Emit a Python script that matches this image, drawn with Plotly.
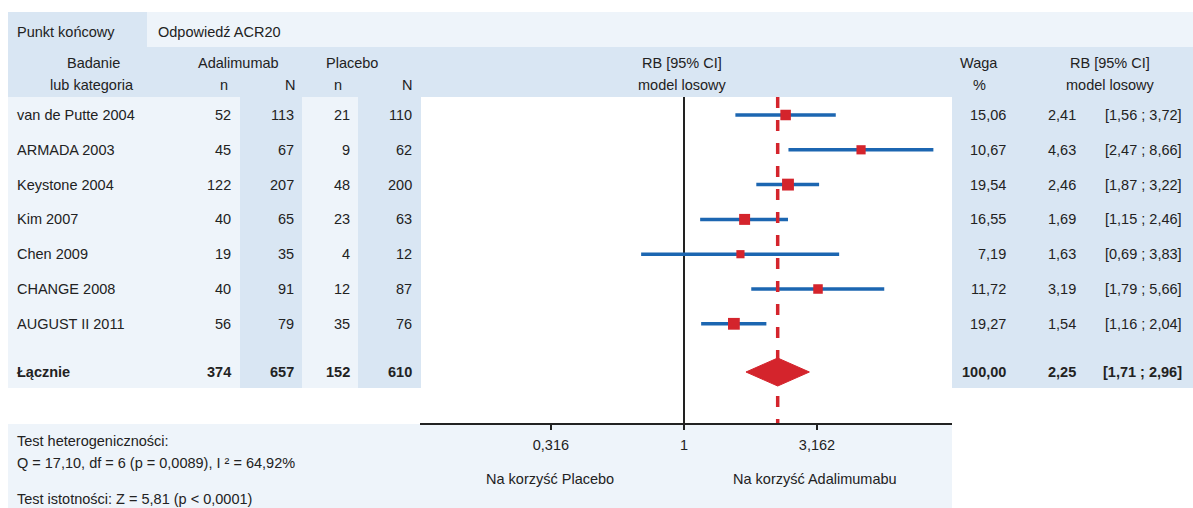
import plotly.graph_objects as go

W, H = 1193, 508

# ---------------- data ----------------
studies = ["van de Putte 2004", "ARMADA 2003", "Keystone 2004", "Kim 2007",
           "Chen 2009", "CHANGE 2008", "AUGUST II 2011"]
ada_n = [52, 45, 122, 40, 19, 40, 56]
ada_N = [113, 67, 207, 65, 35, 91, 79]
pla_n = [21, 9, 48, 23, 4, 12, 35]
pla_N = [110, 62, 200, 63, 12, 87, 76]
weights = [15.06, 10.67, 19.54, 16.55, 7.19, 11.72, 19.27]
rb = [2.41, 4.63, 2.46, 1.69, 1.63, 3.19, 1.54]
ci_lo = [1.56, 2.47, 1.87, 1.15, 0.69, 1.79, 1.16]
ci_hi = [3.72, 8.66, 3.22, 2.46, 3.83, 5.66, 2.04]

total_label = "Łącznie"
total_ada_n, total_ada_N = 374, 657
total_pla_n, total_pla_N = 152, 610
total_weight = 100.00
total_rb, total_lo, total_hi = 2.25, 1.71, 2.96

tick_vals = [0.316, 1, 3.162]
tick_text = ["0,316", "1", "3,162"]

# ---------------- styles ----------------
FONT = "Liberation Sans, Arial, sans-serif"
FS = 14.5
TXT = "#222222"
DARK = "#d9e6f3"
LIGHT = "#eef4fa"
RED = "#d4242c"
BLUE = "#1c66b1"

ROW0, STEP = 115, 34.8
rows_y = [ROW0 + i * STEP for i in range(len(studies))]
total_y = 372
PLOT_TOP, AXIS_Y = 97, 424


def fmt(v):
    return f"{v:.2f}".replace(".", ",")


fig = go.Figure()

# reference line at 1
fig.add_trace(go.Scatter(x=[1, 1], y=[PLOT_TOP, AXIS_Y], mode="lines",
                         line=dict(color="#222222", width=2), hoverinfo="skip"))
# CI lines
cx, cy = [], []
for lo, hi, y in zip(ci_lo, ci_hi, rows_y):
    cx += [lo, hi, None]
    cy += [y, y, None]
fig.add_trace(go.Scatter(x=cx, y=cy, mode="lines",
                         line=dict(color=BLUE, width=3.5), hoverinfo="skip"))
# pooled dashed line
fig.add_trace(go.Scatter(x=[total_rb, total_rb], y=[PLOT_TOP, AXIS_Y], mode="lines",
                         line=dict(color=RED, width=3.5, dash="11px,12px"),
                         hoverinfo="skip"))
# squares
fig.add_trace(go.Scatter(x=rb, y=rows_y, mode="markers",
                         marker=dict(symbol="square", color=RED, opacity=1,
                                     size=[6 + 0.3 * w for w in weights],
                                     line=dict(width=0)),
                         hoverinfo="skip"))
# diamond
fig.add_trace(go.Scatter(x=[total_lo, total_rb, total_hi, total_rb, total_lo],
                         y=[total_y, total_y - 14, total_y, total_y + 14, total_y],
                         mode="lines", fill="toself", fillcolor=RED,
                         line=dict(color=RED, width=1), hoverinfo="skip"))

# ---------------- background blocks ----------------
shapes = []


def rect(x0, y0, x1, y1, color):
    shapes.append(dict(type="rect", xref="paper", yref="y",
                       x0=x0 / W, x1=x1 / W, y0=y0, y1=y1,
                       fillcolor=color, line=dict(width=0), layer="below"))


rect(8, 12, 147, 47, DARK)
rect(147, 12, W, 47, LIGHT)
rect(8, 47, W, 97, DARK)
rect(8, 97, 421, 388, LIGHT)
rect(240, 97, 302, 388, DARK)
rect(358, 97, 421, 388, DARK)
rect(952, 97, W, 388, DARK)
rect(8, 424, 952, H, LIGHT)

# ---------------- texts ----------------
ann = []


def txt(x, y, s, anchor="left", bold=False):
    ann.append(dict(x=x / W, y=y, xref="paper", yref="y", text=f"<b>{s}</b>" if bold else s,
                    showarrow=False, xanchor=anchor, yanchor="middle",
                    font=dict(family=FONT, size=FS, color=TXT), borderpad=0))


txt(16, 32, "Punkt końcowy")
txt(157, 32, "Odpowiedź ACR20")

h1, h2 = 63, 85
txt(93, h1, "Badanie", "center")
txt(92, h2, "lub kategoria", "center")
txt(238, h1, "Adalimumab", "center")
txt(224, h2, "n", "center")
txt(290, h2, "N", "center")
txt(352, h1, "Placebo", "center")
txt(338, h2, "n", "center")
txt(407, h2, "N", "center")
txt(682, h1, "RB [95% CI]", "center")
txt(682, h2, "model losowy", "center")
txt(979, h1, "Waga", "center")
txt(979, h2, "%", "center")
txt(1110, h1, "RB [95% CI]", "center")
txt(1110, h2, "model losowy", "center")

for i, y in enumerate(rows_y):
    txt(16, y, studies[i])
    txt(232, y, str(ada_n[i]), "right")
    txt(295, y, str(ada_N[i]), "right")
    txt(351, y, str(pla_n[i]), "right")
    txt(413, y, str(pla_N[i]), "right")
    txt(1007, y, fmt(weights[i]), "right")
    txt(1077, y, fmt(rb[i]), "right")
    txt(1183, y, f"[{fmt(ci_lo[i])} ; {fmt(ci_hi[i])}]", "right")

txt(16, total_y, total_label, bold=True)
txt(232, total_y, str(total_ada_n), "right", True)
txt(295, total_y, str(total_ada_N), "right", True)
txt(351, total_y, str(total_pla_n), "right", True)
txt(413, total_y, str(total_pla_N), "right", True)
txt(1007, total_y, fmt(total_weight), "right", True)
txt(1077, total_y, fmt(total_rb), "right", True)
txt(1183, total_y, f"[{fmt(total_lo)} ; {fmt(total_hi)}]", "right", True)

txt(16, 441, "Test heterogeniczności:")
txt(16, 463, "Q = 17,10, df = 6 (p = 0,0089), I ² = 64,92%")
txt(16, 499, "Test istotności: Z = 5,81 (p < 0,0001)")
txt(550, 479, "Na korzyść Placebo", "center")
txt(815, 479, "Na korzyść Adalimumabu", "center")

fig.update_layout(
    width=W, height=H,
    margin=dict(l=0, r=0, t=0, b=0),
    paper_bgcolor="white", plot_bgcolor="white",
    showlegend=False,
    shapes=shapes, annotations=ann,
    xaxis=dict(type="log", range=[-0.9925, 1.0075],
               domain=[420 / W, 952 / W], anchor="free",
               position=(H - AXIS_Y) / H,
               showline=True, linewidth=2, linecolor="#222222",
               ticks="outside", ticklen=5, tickwidth=2, tickcolor="#222222",
               ticklabelstandoff=3,
               tickvals=tick_vals, ticktext=tick_text,
               tickfont=dict(family=FONT, size=FS, color=TXT),
               showgrid=False, zeroline=False, fixedrange=True),
    yaxis=dict(range=[H, 0], domain=[0, 1], visible=False, fixedrange=True),
)

fig.write_html("out.html")
